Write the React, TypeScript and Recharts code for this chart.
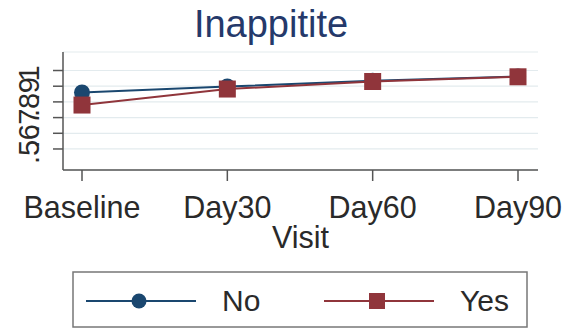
import React from 'react';
import { LineChart, Line, XAxis, YAxis, CartesianGrid, Legend } from 'recharts';

const visits = ['Baseline', 'Day30', 'Day60', 'Day90'];
const noValues = [0.86, 0.898, 0.934, 0.962];
const yesValues = [0.78, 0.882, 0.93, 0.96];
const yTicks = [0.5, 0.6, 0.7, 0.8, 0.9, 1];

const FONT = '"Liberation Sans", Arial, sans-serif';
const NAVY = '#1a476f';
const MAROON = '#90353b';

const data = visits.map((v, i) => ({ visit: v, No: noValues[i], Yes: yesValues[i] }));

const series = [
  { key: 'No', color: NAVY, shape: 'circle' },
  { key: 'Yes', color: MAROON, shape: 'square' },
];

const fmtY = (v: number) => (v === 1 ? '1' : String(v).replace(/^0/, ''));

const CircleDot = (props: any) => {
  const { cx, cy } = props;
  if (cx == null || cy == null) return null;
  return <circle cx={cx} cy={cy} r={8} fill={NAVY} />;
};

const SquareDot = (props: any) => {
  const { cx, cy } = props;
  if (cx == null || cy == null) return null;
  return <rect x={cx - 8.5} y={cy - 8.5} width={17} height={17} fill={MAROON} />;
};

const XTick = (props: any) => {
  const { x, y, payload } = props;
  return (
    <text x={x} y={y + 35} textAnchor="middle" fontSize={30.5} fontFamily={FONT} fill="#2a2a2a">
      {payload.value}
    </text>
  );
};

const YTick = (props: any) => {
  const { y, payload } = props;
  const bx = 39;
  const cy = y + 3;
  return (
    <text
      x={bx}
      y={cy}
      textAnchor="middle"
      fontSize={29}
      fontFamily={FONT}
      fill="#2a2a2a"
      transform={`rotate(-90, ${bx}, ${cy})`}
    >
      {fmtY(payload.value)}
    </text>
  );
};

const VisitLabel = (props: any) => {
  const vb = props.viewBox || { x: 63, y: 170, width: 475 };
  return (
    <text x={vb.x + vb.width / 2} y={vb.y + 78} textAnchor="middle" fontSize={30.5} fontFamily={FONT} fill="#2a2a2a">
      Visit
    </text>
  );
};

const LegendBox = (props: any) => {
  const payload = props.payload || [];
  const starts = [14, 252];
  return (
    <svg width={456} height={58} style={{ display: 'block' }}>
      <rect x={1} y={1} width={454} height={55} fill="#fff" stroke="#777" strokeWidth={1.5} />
      {payload.map((p: any, i: number) => {
        const s = series.find((d) => d.key === p.value) || series[i];
        const x0 = starts[i];
        const cy = 30;
        return (
          <g key={p.value}>
            <line x1={x0} x2={x0 + 110} y1={cy} y2={cy} stroke={s.color} strokeWidth={1.8} />
            {s.shape === 'circle' ? (
              <circle cx={x0 + 53} cy={cy} r={7.5} fill={s.color} />
            ) : (
              <rect x={x0 + 45} y={cy - 8} width={16} height={16} fill={s.color} />
            )}
            <text x={x0 + 136} y={cy + 10} fontSize={30} fontFamily={FONT} fill="#2a2a2a">
              {p.value}
            </text>
          </g>
        );
      })}
    </svg>
  );
};

export default function App() {
  return (
    <div style={{ position: 'absolute', left: 0, top: 0, width: 570, height: 330, background: '#fff' }}>
      <svg width={570} height={50} style={{ position: 'absolute', left: 0, top: 0 }}>
        <text x={271} y={37} textAnchor="middle" fontSize={38} fontFamily={FONT} fill="#25396a">
          Inappitite
        </text>
      </svg>
      <LineChart width={570} height={330} data={data} margin={{ top: 52, right: 32, bottom: 70, left: 0 }}>
        <CartesianGrid horizontal vertical={false} stroke="#e3ebee" strokeWidth={1.2} />
        <XAxis
          dataKey="visit"
          type="category"
          padding={{ left: 19, right: 20 }}
          height={90}
          tickSize={11}
          tickLine={{ stroke: '#555', strokeWidth: 1.5 }}
          axisLine={{ stroke: '#555', strokeWidth: 1.5 }}
          tick={<XTick />}
          interval={0}
          label={<VisitLabel />}
        />
        <YAxis
          type="number"
          domain={[0.366, 1.118]}
          ticks={yTicks}
          interval={0}
          width={63}
          tickSize={10}
          tickLine={{ stroke: '#555', strokeWidth: 1.5 }}
          axisLine={{ stroke: '#555', strokeWidth: 1.5 }}
          tick={<YTick />}
          allowDataOverflow
        />
        <Legend
          layout="horizontal"
          verticalAlign="middle"
          content={<LegendBox />}
          wrapperStyle={{ left: 72, top: 271, width: 456, height: 58 }}
        />
        <Line dataKey="No" stroke={NAVY} strokeWidth={2} dot={<CircleDot />} isAnimationActive={false} />
        <Line dataKey="Yes" stroke={MAROON} strokeWidth={2} dot={<SquareDot />} isAnimationActive={false} />
      </LineChart>
    </div>
  );
}
